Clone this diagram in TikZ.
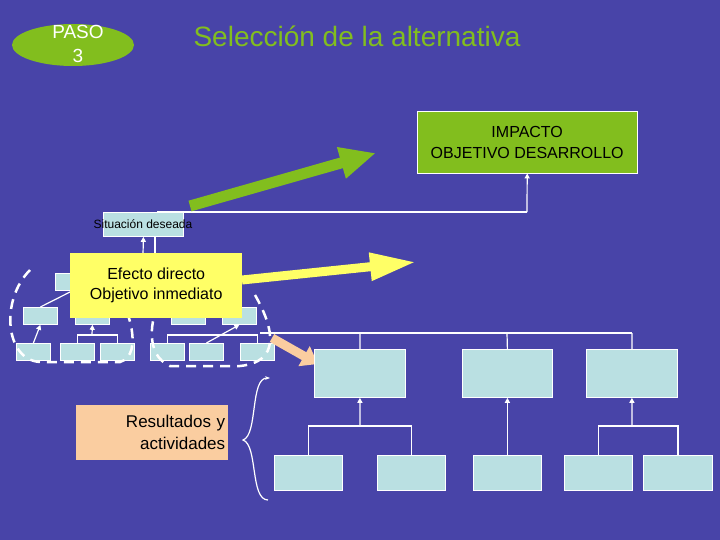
\documentclass[tikz,border=0pt]{standalone}
\usepackage{fontspec}
\setmainfont{Liberation Sans}
\usetikzlibrary{arrows.meta,shapes.geometric}
\definecolor{bg}{RGB}{72,68,168}
\definecolor{bx}{RGB}{186,224,226}
\definecolor{gr}{RGB}{130,190,30}
\definecolor{yl}{RGB}{255,255,102}
\definecolor{pe}{RGB}{250,205,160}
\tikzset{
 sb/.style={draw=white,fill=bx,line width=0.8pt,minimum width=#1,anchor=north west,inner sep=0pt},
 tb/.style={draw=white,fill=bx,line width=0.8pt,anchor=north west,inner sep=0pt,minimum width=34pt,minimum height=17pt},
 wl/.style={draw=white,line width=1.2pt},
 wa/.style={draw=white,line width=1.2pt,-{Triangle[width=5pt,length=5pt]}},
 dsh/.style={draw=white,line width=2.5pt,dash pattern=on 10pt off 7pt},
}
\begin{document}
\begin{tikzpicture}[x=1pt,y=-1pt]
\fill[bg] (0,0) rectangle (720,540);
\useasboundingbox (0,0) rectangle (720,540);
% header
\node[ellipse,fill=gr,minimum width=122pt,minimum height=42pt,inner sep=0pt] (paso) at (73,45) {};
\node[text=white,align=center,font=\fontsize{19}{24}\selectfont] (pasot) at (78,44) {PASO\\3};
\node[text=gr,font=\fontsize{28}{30}\selectfont] (title) at (357,36) {Selección de la alternativa};
% impacto
\node[draw=white,fill=gr,anchor=north west,minimum width=220pt,minimum height=62pt,inner sep=0pt,align=center,font=\fontsize{16}{21}\selectfont] (imp) at (417,111) {IMPACTO\\OBJETIVO DESARROLLO};
\node[sb=80pt,minimum height=24pt] (sit) at (103,212) {};
\node[font=\fontsize{12}{14}\selectfont] (sitt) at (143,224) {Situación deseada};
\coordinate (c1) at (157,212);
\coordinate (c2) at (527,212);
\draw[wl] (c1) -- (c2);
\draw[wa] (c2) -- (imp.south);
% left small trees
\node[tb] (l1) at (55,273) {};
\node[tb] (l21) at (23,307) {};
\node[tb] (l22) at (75,307) {};
\node[tb] (l23) at (171,307) {};
\node[tb] (l24) at (222,307) {};
\node[tb] (l31) at (16,343) {};
\node[tb] (l32) at (60,343) {};
\node[tb] (l33) at (100,343) {};
\node[tb] (l34) at (150,343) {};
\node[tb] (l35) at (189,343) {};
\node[tb] (l36) at (240,343) {};
\draw[wl] (l32.north) -- ++(0,-8) -| (l33.north);
\draw[wa] (92,335) -- (l22.south);
\draw[wa] (l31.north) -- (l21.south);
\draw[wl] (l34.north) -- ++(0,-8) -| (l36.north);
\draw[wa] (l35.north) -- (l24.south);
\draw[wl] (l21.north) -- (l1.south);
\draw[wa] (143,255) -- (sit.south);
\draw[wl] (155,255) -- (155,236);
\draw[dsh] (30,270) .. controls (0,300) and (5,360) .. (40,362) -- (120,362) .. controls (145,355) and (128,300) .. (110,285);
\draw[dsh] (255,295) .. controls (275,330) and (280,362) .. (240,366) -- (170,366) .. controls (145,355) and (150,320) .. (160,300);
% yellow
\node[fill=yl,anchor=north west,minimum width=172pt,minimum height=65pt,inner sep=0pt,align=center,font=\fontsize{16}{20}\selectfont] (eff) at (70,253) {Efecto directo\\Objetivo inmediato};
\draw[yl,line width=9pt,-{Triangle[width=26pt,length=46pt]}] (242,280) -- (416,262);
\draw[gr,line width=11pt,-{Triangle[width=30pt,length=36pt]}] (190,206) -- (376,153);
% orange arrow
\coordinate (o1) at (272,338);
\draw[pe,line width=9pt,-{Triangle[width=22pt,length=16pt]}] (o1) -- (318,364);
% big tree
\node[sb=91pt,minimum height=48pt] (m1) at (314,349) {};
\node[sb=90pt,minimum height=48pt] (m2) at (462,349) {};
\node[sb=91pt,minimum height=48pt] (m3) at (586,349) {};
\draw[wl] (260,333) -- (632,333);
\draw[wl] (360,333) -- (m1.north);
\draw[wl] (507,333) -- (m2.north);
\draw[wl] (632,333) -- (m3.north);
\node[sb=68pt,minimum height=35pt] (b1) at (274,455) {};
\node[sb=68pt,minimum height=35pt] (b2) at (377,455) {};
\node[sb=68pt,minimum height=35pt] (b3) at (473,455) {};
\node[sb=68pt,minimum height=35pt] (b4) at (564,455) {};
\node[sb=69pt,minimum height=35pt] (b5) at (643,455) {};
\draw[wl] (b1.north) -- ++(0,-29) -| (b2.north);
\draw[wa] (360,426) -- (m1.south);
\draw[wa] (b3.north) -- (m2.south);
\draw[wl] (b4.north) -- ++(0,-29) -| (b5.north);
\draw[wa] (632,426) -- (m3.south);
% resultados
\node[fill=pe,anchor=north west,minimum width=152pt,minimum height=55pt,inner sep=3pt,align=right,text width=146pt,font=\fontsize{17}{22}\selectfont] (res) at (76,405) {Resultados y\\actividades};
\coordinate (br1) at (268,500);
\coordinate (br2) at (270,378);
\draw[white,line width=1.2pt,-{Stealth[length=5pt]}] (br1) .. controls (250,500) and (258,445) .. (243,440) .. controls (258,435) and (250,378) .. (br2);
\end{tikzpicture}
\end{document}
